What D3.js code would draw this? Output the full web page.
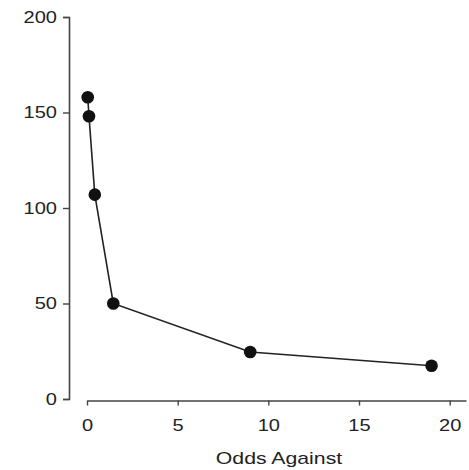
<!DOCTYPE html>
<html><head><meta charset="utf-8">
<script src="https://cdn.jsdelivr.net/npm/d3@7"></script>
<style>body{margin:0;background:#fff}svg{display:block}</style>
</head><body><svg id="c" width="469" height="470"></svg>
<script>
const odds = [0.04, 0.11, 0.43, 1.45, 9, 19];
const values = [158, 148, 107, 50, 24.6, 17.4];
const xTicks = [0, 5, 10, 15, 20];
const yTicks = [0, 50, 100, 150, 200];
const xTitle = "Odds Against";

const svg = d3.select("#c");
const x = d3.scaleLinear().domain([0, 20.9]).range([87, 466]);
const y = d3.scaleLinear().domain([0, 200]).range([399, 17]);
const SX = 1.18;
const axisCol = "#444";
const font = "'Liberation Sans', Arial, sans-serif";

const gy = svg.append("g").attr("transform", "translate(69,0)")
  .call(d3.axisLeft(y).tickValues(yTicks).tickSize(6).tickPadding(6).tickSizeOuter(6));
const gx = svg.append("g").attr("transform", "translate(0,400.5)")
  .call(d3.axisBottom(x).tickValues(xTicks).tickSize(5).tickPadding(13).tickSizeOuter(0));

[gx, gy].forEach(g => {
  g.select(".domain").attr("stroke", axisCol).attr("stroke-width", 1.6);
  g.selectAll(".tick line").attr("stroke", axisCol).attr("stroke-width", 1.4);
  g.selectAll(".tick text").attr("fill", "#222")
    .attr("font-family", font).attr("font-size", 17);
});
gy.selectAll(".tick text").attr("x", -12 / SX).attr("transform", `scale(${SX},1)`);
gx.selectAll(".tick text").attr("transform", `scale(${SX},1)`);

svg.append("text").attr("transform", `translate(279,464) scale(1.25,1)`)
  .attr("text-anchor", "middle").attr("font-family", font)
  .attr("font-size", 17).attr("fill", "#222").text(xTitle);

const pts = odds.map((o, i) => [o, values[i]]);
svg.append("path").datum(pts)
  .attr("d", d3.line().x(d => x(d[0])).y(d => y(d[1])))
  .attr("fill", "none").attr("stroke", "#222").attr("stroke-width", 1.6);
svg.selectAll("circle").data(pts).join("circle")
  .attr("cx", d => x(d[0])).attr("cy", d => y(d[1])).attr("r", 6.3).attr("fill", "#111");
</script></body></html>
